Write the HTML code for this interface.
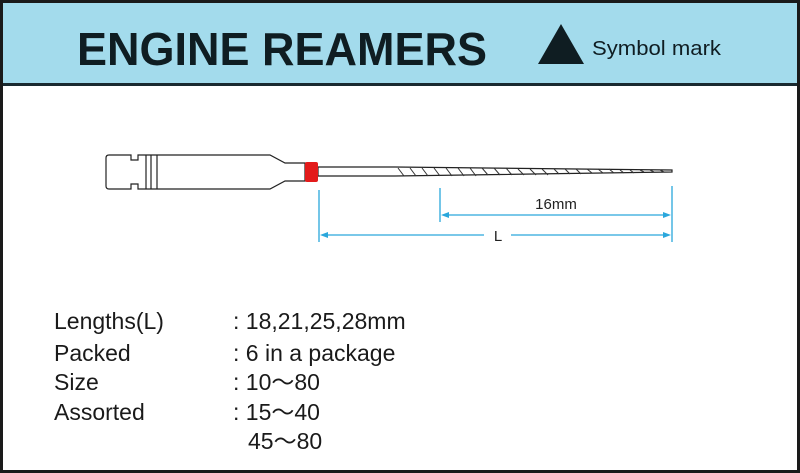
<!DOCTYPE html>
<html><head><meta charset="utf-8"><style>
html,body{margin:0;padding:0;background:#fff}
svg{display:block}
text{font-family:"Liberation Sans","Noto Sans CJK JP",sans-serif}
</style></head><body>
<svg width="800" height="473" viewBox="0 0 800 473" xmlns="http://www.w3.org/2000/svg">
<rect x="0" y="0" width="800" height="473" fill="#1a1a1a"/>
<rect x="3" y="3" width="794" height="467" fill="#fff"/>
<rect x="3" y="3" width="794" height="80" fill="#a3dbec"/>
<rect x="3" y="83" width="794" height="3" fill="#1a2a30"/>
<text x="77" y="65" font-weight="bold" font-size="46" fill="#0f1d22" textLength="410" lengthAdjust="spacingAndGlyphs">ENGINE REAMERS</text>
<polygon points="561,24 538,64 584,64" fill="#0f1d22"/>
<text x="592" y="55" font-size="20" fill="#0f1d22" textLength="129" lengthAdjust="spacingAndGlyphs">Symbol mark</text>
<g stroke="#222" stroke-width="1.2" fill="#fff">
<path d="M109,155 L131,155 L131,160 L138,160 L138,155 L270,155 L285,163 L305,163 L305,181 L285,181 L270,189 L138,189 L138,184 L131,184 L131,189 L109,189 Q106,189 106,186 L106,158 Q106,155 109,155 Z"/>
<line x1="146" y1="155" x2="146" y2="189"/>
<line x1="151" y1="155" x2="151" y2="189"/>
<line x1="157" y1="155" x2="157" y2="189"/>
<path d="M318,167 L395,167 L672,170 L672,172 L395,176 L318,176 Z"/>
</g>
<rect x="305" y="162" width="13" height="20" rx="2" fill="#e31b1b"/>
<g stroke="#333" stroke-width="1" fill="none">
<path d="M398,168 l6,8 M410,168 l6,8 M422,168 l6,8 M434,168 l6,8 M446,168 l6,8 M458,168 l6,8 M470,168 l6,8 M482,168 l6,7 M494,168 l6,7 M506,168 l6,7 M518,169 l6,6 M530,169 l6,6 M542,169 l6,6 M554,169 l5,5 M565,169 l5,5 M576,169 l5,5 M587,169 l5,4 M598,169 l5,4 M609,169 l5,4 M620,170 l4,3 M630,170 l4,3 M640,170 l4,2 M650,170 l4,2 M660,170 l4,2"/>
</g>
<g stroke="#2aa7dc" stroke-width="1.3" fill="#2aa7dc">
<line x1="319" y1="190" x2="319" y2="242"/>
<line x1="440" y1="188" x2="440" y2="222"/>
<line x1="672" y1="186" x2="672" y2="242"/>
<line x1="445" y1="215" x2="667" y2="215"/>
<line x1="324" y1="235" x2="484" y2="235"/>
<line x1="511" y1="235" x2="667" y2="235"/>
<polygon points="441,215 449,212 449,218" stroke="none"/>
<polygon points="671,215 663,212 663,218" stroke="none"/>
<polygon points="320,235 328,232 328,238" stroke="none"/>
<polygon points="671,235 663,232 663,238" stroke="none"/>
</g>
<text x="556" y="209" text-anchor="middle" font-size="15" fill="#222">16mm</text>
<text x="498" y="241" text-anchor="middle" font-size="15" fill="#222">L</text>
<g font-size="23" fill="#1a1a1a">
<text x="54" y="329">Lengths(L)</text>
<text x="54" y="361">Packed</text>
<text x="54" y="390">Size</text>
<text x="54" y="420">Assorted</text>
<text x="233" y="329">: 18,21,25,28mm</text>
<text x="233" y="361">: 6 in a package</text>
<text x="233" y="390">: 10～80</text>
<text x="233" y="420">: 15～40</text>
<text x="248" y="449">45～80</text>
</g>
</svg>
</body></html>
